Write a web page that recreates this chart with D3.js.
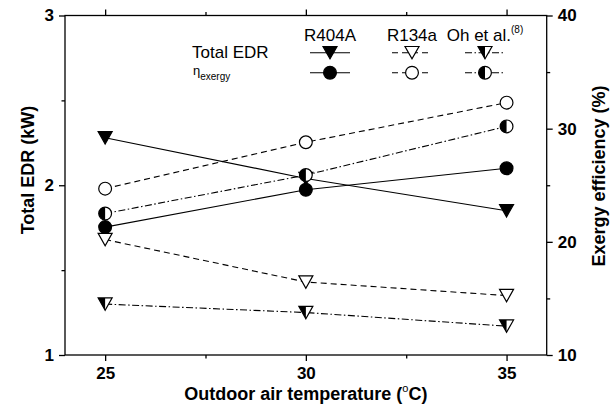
<!DOCTYPE html>
<html>
<head>
<meta charset="utf-8">
<script src="https://cdn.jsdelivr.net/npm/d3@7"></script>
<style>
  body { margin: 0; background: #fff; }
  svg { display: block; font-family: "Liberation Sans", Arial, sans-serif; }
</style>
</head>
<body>
<div id="chart"></div>
<script>
// outdoor air temperature (C)
const temps = [25, 30, 35];
// total EDR (kW), left axis
const edrR404A = [2.28, 2.04, 1.85];
const edrR134a = [1.68, 1.43, 1.35];
const edrOh = [1.30, 1.25, 1.17];
// exergy efficiency (%), right axis
const effR404A = [21.3, 24.6, 26.5];
const effR134a = [24.7, 28.8, 32.3];
const effOh = [22.5, 25.9, 30.2];

const xTicks = [25, 30, 35];
const xMinor = [27.5, 32.5];
const yLeftTicks = [1, 2, 3];
const yLeftMinor = [1.5, 2.5];
const yRightTicks = [10, 20, 30, 40];
const yRightMinor = [15, 25, 35];

const W = 612, H = 406;
const margin = {top: 15.5, right: 65.3, bottom: 51, left: 65};

const svg = d3.select("#chart").append("svg")
    .attr("width", W)
    .attr("height", H);

const x = d3.scaleLinear().domain([24, 36]).range([margin.left, W - margin.right]);
const yL = d3.scaleLinear().domain([1, 3]).range([H - margin.bottom, margin.top]);
const yR = d3.scaleLinear().domain([10, 40]).range([H - margin.bottom, margin.top]);

// line styles
const dashes = {solid: null, dash: "6,4", dashdot: "7,2.5,1.5,2.5"};

// marker shapes
function downTri(g, cx, cy, fill) {
  const w = 7, h = 6.2;
  const pts = [[cx - w, cy - h], [cx + w, cy - h], [cx, cy + h]];
  if (fill == "half") {
    g.append("path").attr("d", d3.line()(pts) + "Z").attr("fill", "#fff");
    g.append("path").attr("d", d3.line()([[cx - w, cy - h], [cx, cy - h], [cx, cy + h]]) + "Z")
      .attr("fill", "#000");
    g.append("path").attr("d", d3.line()(pts) + "Z").attr("fill", "none")
      .attr("stroke", "#000").attr("stroke-width", 1.2);
  } else {
    g.append("path").attr("d", d3.line()(pts) + "Z")
      .attr("fill", fill).attr("stroke", "#000").attr("stroke-width", 1.2)
      .attr("stroke-linejoin", "miter");
  }
}

function circ(g, cx, cy, fill) {
  const r = 6.4;
  if (fill == "half") {
    g.append("circle").attr("cx", cx).attr("cy", cy).attr("r", r).attr("fill", "#fff");
    g.append("path")
      .attr("d", `M${cx},${cy - r} A${r},${r} 0 0 0 ${cx},${cy + r} Z`)
      .attr("fill", "#000");
    g.append("circle").attr("cx", cx).attr("cy", cy).attr("r", r)
      .attr("fill", "none").attr("stroke", "#000").attr("stroke-width", 1.2);
  } else {
    g.append("circle").attr("cx", cx).attr("cy", cy).attr("r", r)
      .attr("fill", fill).attr("stroke", "#000").attr("stroke-width", 1.2);
  }
}

const series = [
  {vals: edrR404A, y: yL, dash: "solid", marker: downTri, fill: "#000"},
  {vals: edrR134a, y: yL, dash: "dash", marker: downTri, fill: "#fff"},
  {vals: edrOh, y: yL, dash: "dashdot", marker: downTri, fill: "half"},
  {vals: effR404A, y: yR, dash: "solid", marker: circ, fill: "#000"},
  {vals: effR134a, y: yR, dash: "dash", marker: circ, fill: "#fff"},
  {vals: effOh, y: yR, dash: "dashdot", marker: circ, fill: "half"}
];

// lines first
series.forEach(function (s) {
  const line = d3.line()
    .x(function (d, i) { return x(temps[i]); })
    .y(function (d) { return s.y(d); });
  svg.append("path")
    .datum(s.vals)
    .attr("fill", "none")
    .attr("stroke", "#000")
    .attr("stroke-width", 1.1)
    .attr("stroke-dasharray", dashes[s.dash])
    .attr("d", line);
});

// then markers
series.forEach(function (s) {
  const g = svg.append("g");
  s.vals.forEach(function (v, i) {
    s.marker(g, x(temps[i]), s.y(v), s.fill);
  });
});

// axes
const axisW = 1.3;
const tickFont = 17;
function styleAxis(g) {
  g.select(".domain").remove();
  g.selectAll("line").attr("stroke", "#000").attr("stroke-width", axisW);
  g.selectAll("text").attr("font-size", tickFont).attr("font-weight", "bold").attr("fill", "#000");
}

const gBottom = svg.append("g").attr("transform", `translate(0,${H - margin.bottom})`);
gBottom.call(d3.axisBottom(x).tickValues(xTicks).tickSize(6).tickPadding(6))
  .call(styleAxis);
gBottom.append("g").call(d3.axisBottom(x).tickValues(xMinor).tickSize(3.5).tickFormat(""))
  .call(styleAxis);

const gTop = svg.append("g").attr("transform", `translate(0,${margin.top})`);
gTop.call(d3.axisTop(x).tickValues(xTicks).tickSize(6).tickFormat("")).call(styleAxis);
gTop.append("g").call(d3.axisTop(x).tickValues(xMinor).tickSize(3.5).tickFormat(""))
  .call(styleAxis);

const gLeft = svg.append("g").attr("transform", `translate(${margin.left},0)`);
gLeft.call(d3.axisLeft(yL).tickValues(yLeftTicks).tickFormat(d3.format("d")).tickSize(6).tickPadding(5))
  .call(styleAxis);
gLeft.append("g").call(d3.axisLeft(yL).tickValues(yLeftMinor).tickSize(3.5).tickFormat(""))
  .call(styleAxis);

const gRight = svg.append("g").attr("transform", `translate(${W - margin.right},0)`);
gRight.call(d3.axisRight(yR).tickValues(yRightTicks).tickSize(6).tickPadding(5))
  .call(styleAxis);
gRight.append("g").call(d3.axisRight(yR).tickValues(yRightMinor).tickSize(3.5).tickFormat(""))
  .call(styleAxis);

// frame
svg.append("rect")
  .attr("x", margin.left).attr("y", margin.top)
  .attr("width", W - margin.left - margin.right)
  .attr("height", H - margin.top - margin.bottom)
  .attr("fill", "none").attr("stroke", "#000").attr("stroke-width", axisW);

// axis titles
const xt = svg.append("text")
  .attr("x", (margin.left + W - margin.right) / 2)
  .attr("y", 400)
  .attr("text-anchor", "middle")
  .attr("font-size", 18).attr("font-weight", "bold");
xt.append("tspan").text("Outdoor air temperature (");
xt.append("tspan").attr("font-size", 11).attr("font-weight", "normal").attr("dy", -8).text("o");
xt.append("tspan").attr("dy", 8).text("C)");

svg.append("text")
  .attr("transform", "translate(34,170) rotate(-90)")
  .attr("text-anchor", "middle")
  .attr("font-size", 18).attr("font-weight", "bold")
  .text("Total EDR (kW)");

svg.append("text")
  .attr("transform", "translate(605,176) rotate(-90)")
  .attr("text-anchor", "middle")
  .attr("font-size", 18).attr("font-weight", "bold")
  .text("Exergy efficiency (%)");

// legend
const legNames = ["R404A", "R134a", "Oh et al."];
const legX = [330, 412, 485];
const legDash = ["solid", "dash", "dashdot"];
const legFill = ["#000", "#fff", "half"];
const leg = svg.append("g");

legNames.forEach(function (n, i) {
  const t = leg.append("text")
    .attr("x", legX[i]).attr("y", 41)
    .attr("text-anchor", "middle")
    .attr("font-size", 17)
    .text(n);
  if (i == 2) {
    t.append("tspan").attr("font-size", 10).attr("dy", -8).text("(8)");
  }
  [52.7, 72.7].forEach(function (ly, k) {
    leg.append("line")
      .attr("x1", legX[i] - 20).attr("x2", legX[i] + 20)
      .attr("y1", ly).attr("y2", ly)
      .attr("stroke", "#000").attr("stroke-width", 1.1)
      .attr("stroke-dasharray", dashes[legDash[i]]);
    if (k == 0) downTri(leg, legX[i], ly, legFill[i]);
    else circ(leg, legX[i], ly, legFill[i]);
  });
});

leg.append("text").attr("x", 192).attr("y", 58).attr("font-size", 17).text("Total EDR");
const eta = leg.append("text").attr("x", 193).attr("y", 75).attr("font-size", 13);
eta.append("tspan").text("\u03B7");
eta.append("tspan").attr("font-size", 10).attr("dy", 5).text("exergy");
</script>
</body>
</html>
